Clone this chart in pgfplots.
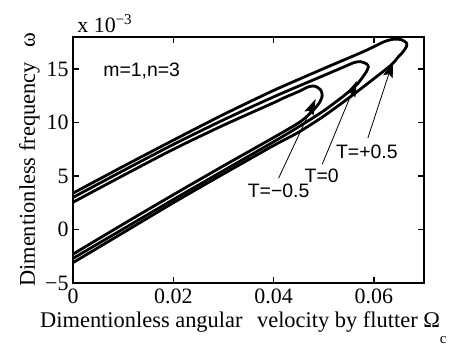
\documentclass[border=0pt]{standalone}
\usepackage{fontspec}
\setmainfont{Liberation Serif}
\newfontfamily\helv{Liberation Sans}
\usepackage{pgfplots}
\pgfplotsset{compat=1.18}
\usetikzlibrary{arrows.meta}

% Frequency curves (omega in units of 1e-3) for m=1, n=3:
% each loop runs along the lower branch up to the fold and back along the upper branch.
\pgfplotstableread{
x y
0 -3.1
0.01 -0.3
0.02 2.5
0.03 5.2
0.04 7.85
0.045 9.1
0.05 10.6
0.055 12.3
0.06 14.1
0.0635 15.4
0.0648 16.1
0.0658 16.6
0.0665 17.1
0.0665 17.45
0.0655 17.75
0.064 17.8
0.062 17.55
0.058 16.65
0.05 15.05
0.04 13.0
0.03 10.75
0.02 8.35
0.01 5.9
0 3.4
}\Tplus
\pgfplotstableread{
x y
0 -2.7
0.01 0.05
0.02 2.8
0.03 5.5
0.04 8.2
0.045 9.6
0.05 11.1
0.054 12.5
0.0565 13.5
0.0577 14.2
0.0585 14.75
0.0589 15.2
0.0585 15.5
0.0573 15.7
0.056 15.6
0.054 15.2
0.05 14.4
0.04 12.4
0.03 10.25
0.02 7.95
0.01 5.5
0 3.0
}\Tzero
\pgfplotstableread{
x y
0 -2.3
0.01 0.5
0.02 3.25
0.03 5.95
0.04 8.6
0.0454 10.1
0.048 11.2
0.0492 11.9
0.0497 12.5
0.0494 13.05
0.0483 13.4
0.047 13.35
0.045 12.9
0.042 12.3
0.04 11.85
0.03 9.75
0.02 7.5
0.01 5.05
0 2.55
}\Tminus

\begin{document}
\begin{tikzpicture}
\useasboundingbox (-73bp,-64bp) rectangle (385bp,283bp);
\begin{axis}[
  at={(0,0)}, anchor=south west,
  scale only axis, width=351bp, height=246bp,
  xmin=0, xmax=0.07, ymin=-5, ymax=18,
  scaled x ticks=false, scaled y ticks=false,
  xtick={0,0.02,0.04,0.06}, xticklabels={0,0.02,0.04,0.06},
  ytick={-5,0,5,10,15}, yticklabels={−5,0,5,10,15},
  tick align=inside, major tick length=6bp,
  axis line style={line width=2.2bp},
  every tick/.style={black, line width=1.3bp},
  tick label style={font=\fontsize{22}{24}\selectfont},
  xticklabel style={yshift=-2bp},
  yticklabel style={xshift=-1bp},
  clip=false,
]
\addplot[black, line width=2.8bp, smooth, tension=0.45] table {\Tminus};
\addplot[black, line width=2.8bp, smooth, tension=0.45] table {\Tzero};
\addplot[black, line width=2.8bp, smooth, tension=0.45] table {\Tplus};

\draw[line width=0.8bp, -{Stealth[length=16bp,width=10bp,inset=3bp]}] (axis cs:0.0588,8.55) -- (axis cs:0.0638,15.7);
\draw[line width=0.8bp, -{Stealth[length=16bp,width=10bp,inset=3bp]}] (axis cs:0.0497,6.1) -- (axis cs:0.0566,13.9);
\draw[line width=0.8bp, -{Stealth[length=16bp,width=10bp,inset=3bp]}] (axis cs:0.0410,4.8) -- (axis cs:0.0484,12.2);

\node[font=\helv\fontsize{19.5}{22}\selectfont] at (axis cs:0.0586,7.3) {T=+0.5};
\node[font=\helv\fontsize{19.5}{22}\selectfont] at (axis cs:0.0496,5.0) {T=0};
\node[font=\helv\fontsize{19.5}{22}\selectfont] at (axis cs:0.0410,3.6) {T=−0.5};
\node[font=\helv\fontsize{19.5}{22}\selectfont] at (axis cs:0.0137,14.85) {m=1,n=3};

% axis titles and the exponent of the y scale
\node[anchor=base west, inner sep=0pt, font=\fontsize{22.5}{24}\selectfont]
  at (rel axis cs:-0.094,-0.1789)
  {Dimentionless angular\hspace{0.4em} velocity by flutter Ω\raisebox{-16bp}{\fontsize{15}{15}\selectfont c}};
\node[anchor=base west, inner sep=0pt, rotate=90, font=\fontsize{22.5}{24}\selectfont]
  at (rel axis cs:-0.1083,-0.0163)
  {Dimentionless frequency\hspace{0.4em} ω};
\node[anchor=base west, inner sep=0pt, font=\fontsize{22}{24}\selectfont] at (rel axis cs:0.012,1.0203) {x 10\raisebox{8bp}{\fontsize{15}{15}\selectfont −3}};
\end{axis}
\end{tikzpicture}
\end{document}
